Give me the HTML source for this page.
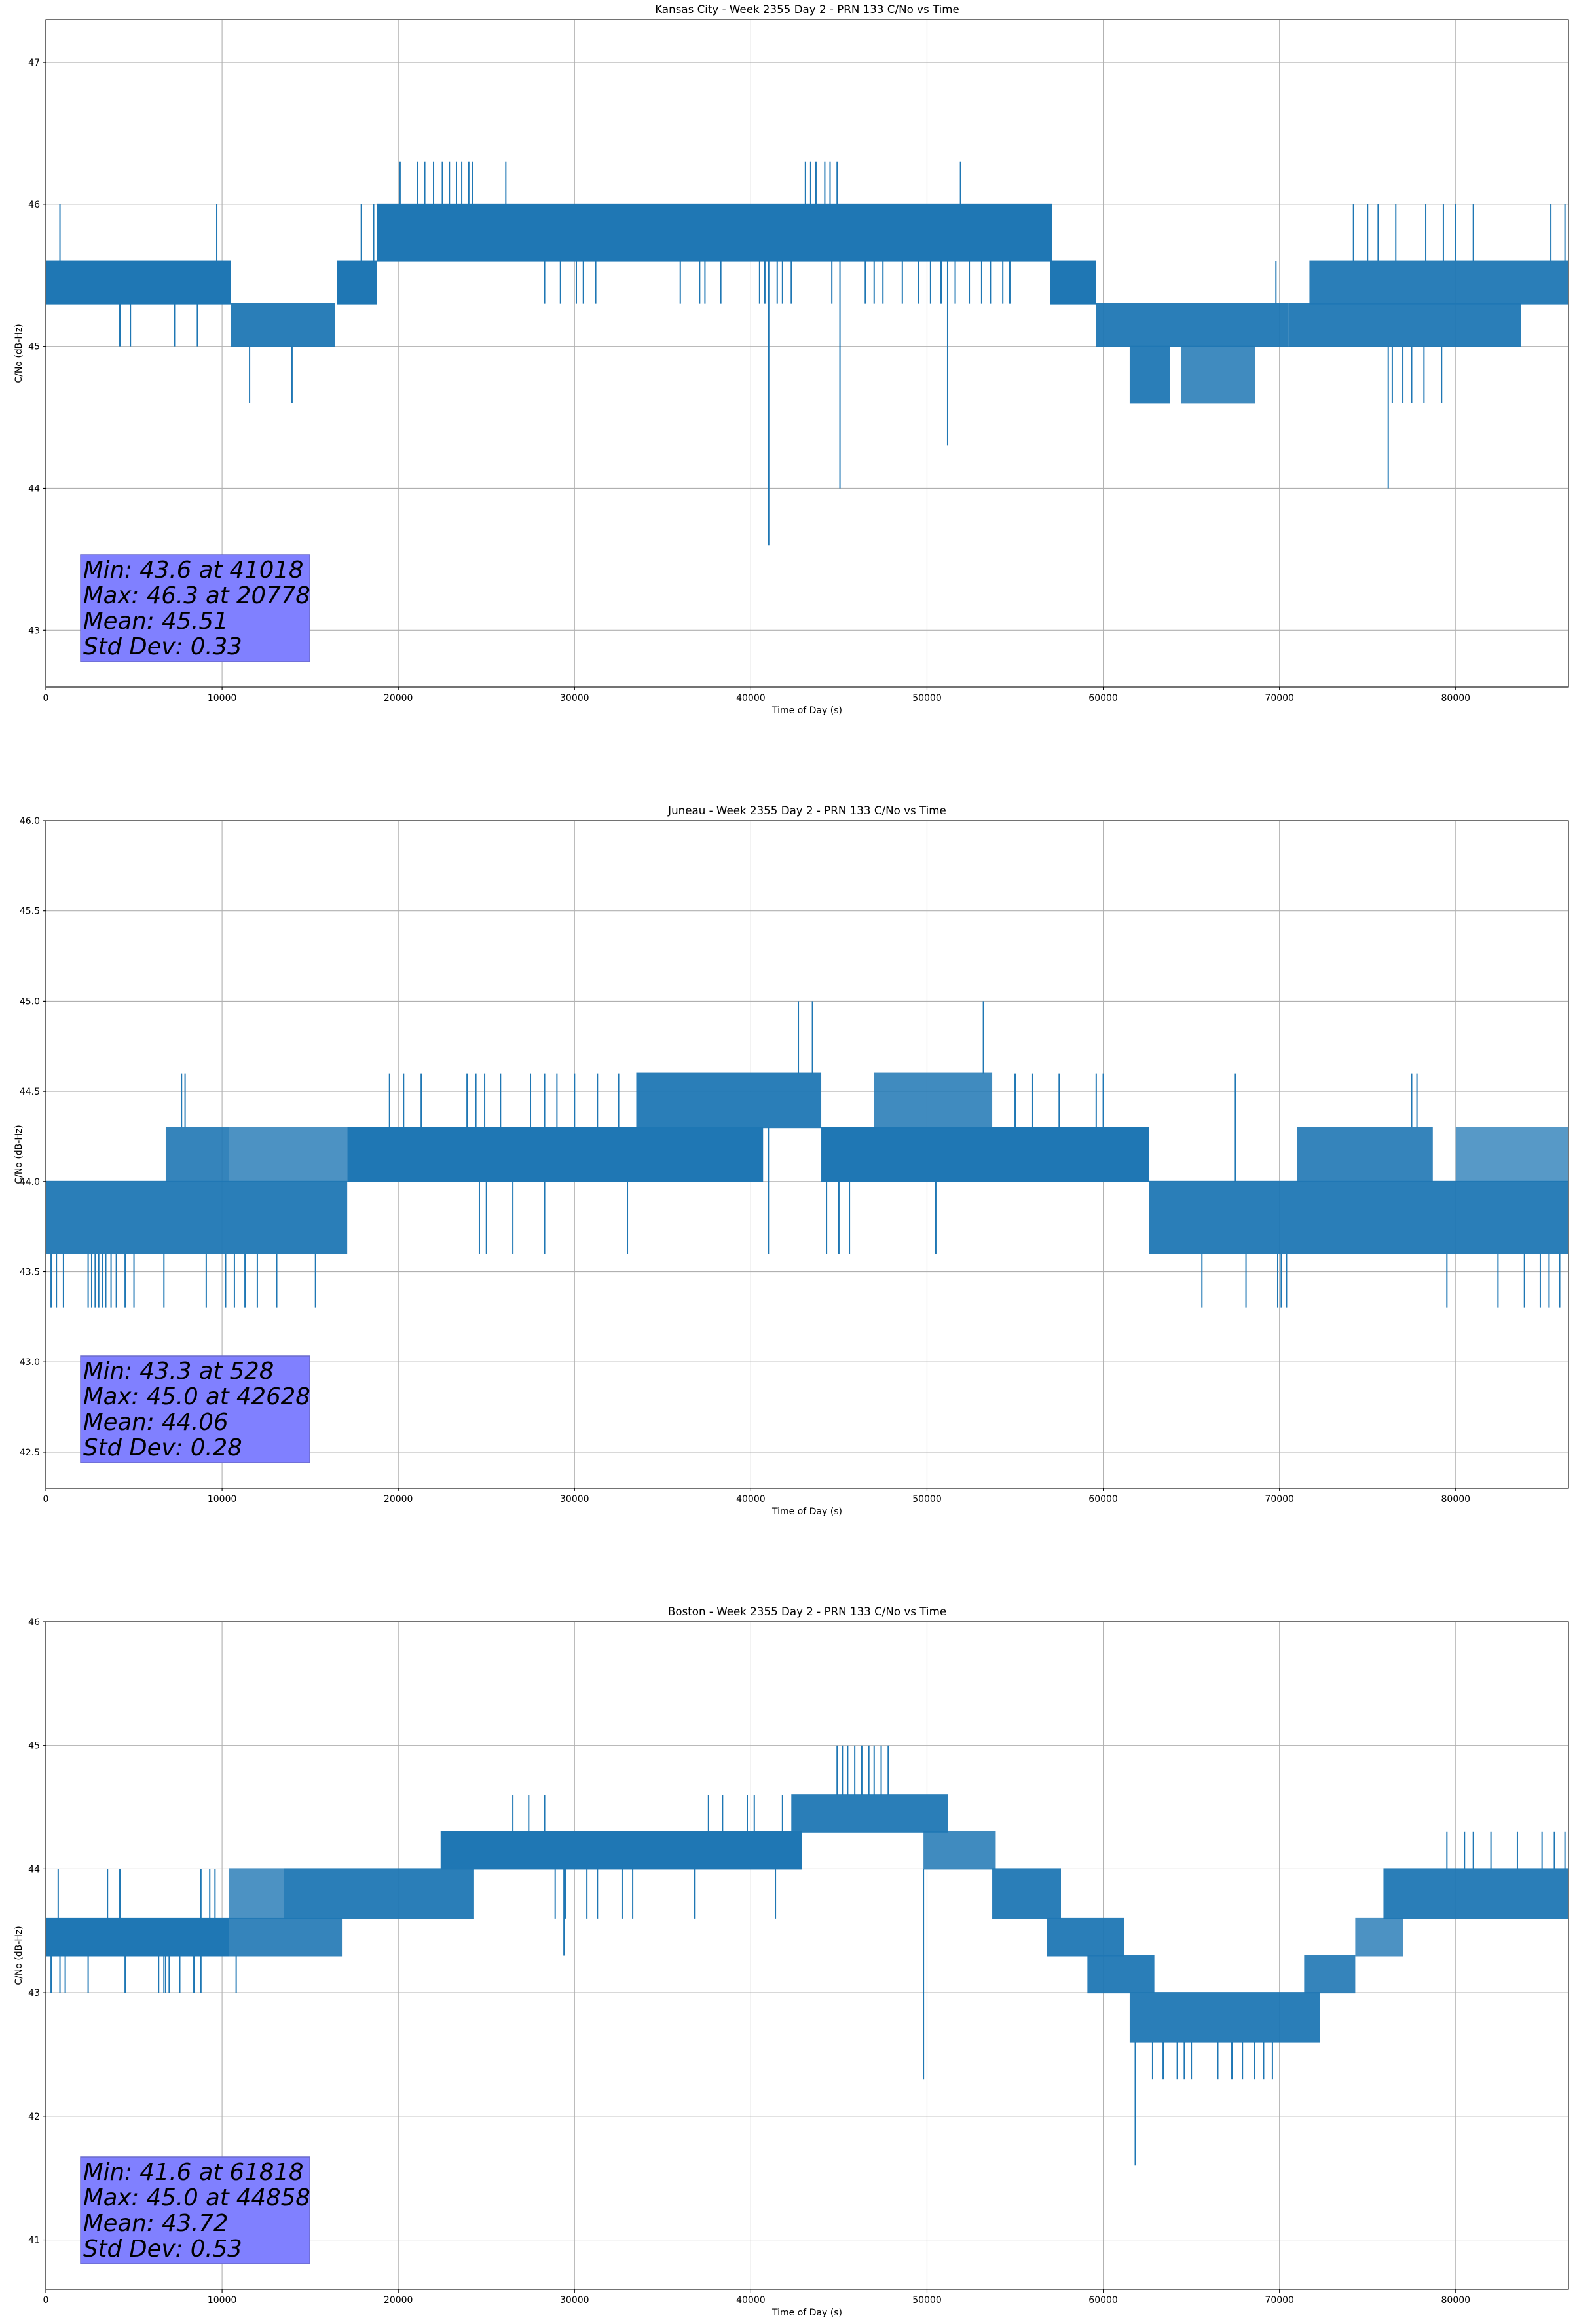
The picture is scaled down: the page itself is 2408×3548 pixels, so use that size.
<!DOCTYPE html>
<html><head><meta charset="utf-8">
<style>
html,body{margin:0;padding:0;background:#fff;}
svg{display:block;font-family:"DejaVu Sans","Liberation Sans",sans-serif;}
</style></head>
<body>
<svg id="fig" width="2408" height="3548" viewBox="0 0 2408 3548"></svg>
<script>
// ---- shared axis data ----
const xTicks = [0,10000,20000,30000,40000,50000,60000,70000,80000];
const xMax = 86400;

// ---- Kansas City ----
const kcTitle = "Kansas City - Week 2355 Day 2 - PRN 133 C/No vs Time";
const kcYLim = [42.6, 47.3];
const kcYTicks = [43,44,45,46,47];
const kcYTickLabels = ["43","44","45","46","47"];
const kcBandStart = [0,10500,16500,18800,57000,59600,61500,64400,70500,71700];
const kcBandEnd   = [10500,16400,18800,57100,59600,70500,63800,68600,83700,86400];
const kcBandLo    = [45.3,45.0,45.3,45.6,45.3,45.0,44.6,44.6,45.0,45.3];
const kcBandHi    = [45.6,45.3,45.6,46.0,45.6,45.3,45.0,45.0,45.3,45.6];
const kcBandDensity = [1,0.95,1,1,1,0.95,0.95,0.85,0.95,0.95];
const kcSpikeT = [800,9700,17900,18600,20100,21100,21500,22000,22500,22900,23300,23600,24000,24200,26100,43100,43400,43700,44200,44500,44900,51900,
  4200,4800,7300,8600,11560,13970,28300,29200,30100,30500,31200,36000,37100,37400,38300,40500,40800,41500,41800,42300,44600,46500,47000,47500,48600,49500,50200,50800,51600,52400,53100,53600,54300,54700,
  41018,45060,51170,76170,76400,77000,77500,78200,79200,74200,75000,75600,76600,78300,79300,80000,81000,85400,86200,69800];
const kcSpikeV = [46.0,46.0,46.0,46.0,46.3,46.3,46.3,46.3,46.3,46.3,46.3,46.3,46.3,46.3,46.3,46.3,46.3,46.3,46.3,46.3,46.3,46.3,
  45.0,45.0,45.0,45.0,44.6,44.6,45.3,45.3,45.3,45.3,45.3,45.3,45.3,45.3,45.3,45.3,45.3,45.3,45.3,45.3,45.3,45.3,45.3,45.3,45.3,45.3,45.3,45.3,45.3,45.3,45.3,45.3,45.3,45.3,
  43.6,44.0,44.3,44.0,44.6,44.6,44.6,44.6,44.6,46.0,46.0,46.0,46.0,46.0,46.0,46.0,46.0,46.0,46.0,45.6];
const kcStats = ["Min: 43.6 at 41018","Max: 46.3 at 20778","Mean: 45.51","Std Dev: 0.33"];

// ---- Juneau ----
const juTitle = "Juneau - Week 2355 Day 2 - PRN 133 C/No vs Time";
const juYLim = [42.3, 46.0];
const juYTicks = [42.5,43.0,43.5,44.0,44.5,45.0,45.5,46.0];
const juYTickLabels = ["42.5","43.0","43.5","44.0","44.5","45.0","45.5","46.0"];
const juBandStart = [0,6800,17100,44000,33500,47000,62600,71000,80000,10400];
const juBandEnd   = [17100,10400,40700,62600,44000,53700,86400,78700,86400,17100];
const juBandLo    = [43.6,44.0,44.0,44.0,44.3,44.3,43.6,44.0,44.0,44.0];
const juBandHi    = [44.0,44.3,44.3,44.3,44.6,44.6,44.0,44.3,44.3,44.3];
const juBandDensity = [0.95,0.9,1,1,0.95,0.85,0.95,0.9,0.75,0.8];
const juSpikeT = [300,600,1000,2400,2600,2800,3000,3200,3400,3700,4000,4500,5000,6700,9100,10200,10700,11300,12000,13100,15300,65600,68100,69900,70100,70400,79500,82400,83900,84800,85300,85900,
  7700,7900,19500,20300,21300,23900,24400,24900,25800,27500,28300,29000,30000,31300,32500,55000,56000,57500,59600,60000,67500,77500,77800,
  42700,43500,53200,
  24600,25000,26500,28300,33000,41000,44300,45000,45600,50500];
const juSpikeV = [43.3,43.3,43.3,43.3,43.3,43.3,43.3,43.3,43.3,43.3,43.3,43.3,43.3,43.3,43.3,43.3,43.3,43.3,43.3,43.3,43.3,43.3,43.3,43.3,43.3,43.3,43.3,43.3,43.3,43.3,43.3,43.3,
  44.6,44.6,44.6,44.6,44.6,44.6,44.6,44.6,44.6,44.6,44.6,44.6,44.6,44.6,44.6,44.6,44.6,44.6,44.6,44.6,44.6,44.6,44.6,
  45.0,45.0,45.0,
  43.6,43.6,43.6,43.6,43.6,43.6,43.6,43.6,43.6,43.6];
const juStats = ["Min: 43.3 at 528","Max: 45.0 at 42628","Mean: 44.06","Std Dev: 0.28"];

// ---- Boston ----
const boTitle = "Boston - Week 2355 Day 2 - PRN 133 C/No vs Time";
const boYLim = [40.6, 46.0];
const boYTicks = [41,42,43,44,45,46];
const boYTickLabels = ["41","42","43","44","45","46"];
const boBandStart = [0,10400,10400,13500,22400,42300,49800,53700,56800,59100,61500,71400,74300,75900];
const boBandEnd   = [10400,16800,13500,24300,42900,51200,53900,57600,61200,62900,72300,74300,77000,86400];
const boBandLo    = [43.3,43.3,43.6,43.6,44.0,44.3,44.0,43.6,43.3,43.0,42.6,43.0,43.3,43.6];
const boBandHi    = [43.6,43.6,44.0,44.0,44.3,44.6,44.3,44.0,43.6,43.3,43.0,43.3,43.6,44.0];
const boBandDensity = [1,0.9,0.8,0.95,1,0.95,0.85,0.95,0.95,0.95,0.95,0.9,0.8,0.95];
const boSpikeT = [300,800,1100,2400,4500,6400,6700,6800,7000,7600,8400,8800,10800,
  700,3500,4200,8800,9300,9600,
  26500,27400,28300,37600,38400,39800,40200,41800,42300,
  44900,45200,45500,45900,46300,46700,47000,47400,47800,
  28900,29500,30700,31300,32700,33300,36800,41400,29400,
  49800,61818,
  62800,63400,64200,64600,65000,66500,67300,67900,68600,69100,69600,
  79500,80500,81000,82000,83500,84900,85600,86200];
const boSpikeV = [43.0,43.0,43.0,43.0,43.0,43.0,43.0,43.0,43.0,43.0,43.0,43.0,43.0,
  44.0,44.0,44.0,44.0,44.0,44.0,
  44.6,44.6,44.6,44.6,44.6,44.6,44.6,44.6,44.6,
  45.0,45.0,45.0,45.0,45.0,45.0,45.0,45.0,45.0,
  43.6,43.6,43.6,43.6,43.6,43.6,43.6,43.6,43.3,
  42.3,41.6,
  42.3,42.3,42.3,42.3,42.3,42.3,42.3,42.3,42.3,42.3,42.3,
  44.3,44.3,44.3,44.3,44.3,44.3,44.3,44.3];
const boStats = ["Min: 41.6 at 61818","Max: 45.0 at 44858","Mean: 43.72","Std Dev: 0.53"];

const NS = "http://www.w3.org/2000/svg";
const fig = document.getElementById('fig');
const L = 70, R = 2395, H = 1019;
const BLUE = "#1f77b4";

function mk(tag, parent){ const e = document.createElementNS(NS, tag); parent.appendChild(e); return e; }

function drawChart(key, top, title, yLim, yTicks, yTickLabels, bS, bE, bLo, bHi, bD, sT, sV, stats){
  const g = mk('g', fig);
  
  
  const bottom = top + H;
  const sx = t => L + (t / xMax) * (R - L);
  const sy = v => bottom - (v - yLim[0]) / (yLim[1] - yLim[0]) * H;

  const grid = mk('g', g);
  
  
  xTicks.forEach(t => {
    const l = mk('line', grid);
    l.setAttribute('x1', sx(t)); l.setAttribute('x2', sx(t));
    l.setAttribute('y1', top); l.setAttribute('y2', bottom);
    l.setAttribute('stroke', '#b0b0b0'); l.setAttribute('stroke-width', '1.1');
  });
  yTicks.forEach(v => {
    const l = mk('line', grid);
    l.setAttribute('x1', L); l.setAttribute('x2', R);
    l.setAttribute('y1', sy(v)); l.setAttribute('y2', sy(v));
    l.setAttribute('stroke', '#b0b0b0'); l.setAttribute('stroke-width', '1.1');
  });

  const clipId = key + '-clip';
  const cp = mk('clipPath', g); cp.setAttribute('id', clipId);
  const cr = mk('rect', cp);
  cr.setAttribute('x', L); cr.setAttribute('y', top); cr.setAttribute('width', R - L); cr.setAttribute('height', H);
  const series = mk('g', g);
  
  
  series.setAttribute('clip-path', 'url(#' + clipId + ')');
  for (let i = 0; i < bS.length; i++) {
    const r = mk('rect', series);
    
    
    r.setAttribute('x', sx(bS[i])); r.setAttribute('width', Math.max(1, sx(bE[i]) - sx(bS[i])));
    r.setAttribute('y', sy(bHi[i]) - 1); r.setAttribute('height', sy(bLo[i]) - sy(bHi[i]) + 2);
    r.setAttribute('fill', BLUE); r.setAttribute('fill-opacity', bD[i]);
  }
  for (let i = 0; i < sT.length; i++) {
    const t = sT[i], v = sV[i];
    let hi = -Infinity, lo = Infinity;
    for (let j = 0; j < bS.length; j++) {
      if (t >= bS[j] && t <= bE[j]) { hi = Math.max(hi, bHi[j]); lo = Math.min(lo, bLo[j]); }
    }
    if (hi === -Infinity) { hi = v; lo = v; }
    const from = v > hi ? hi : (v < lo ? lo : v);
    const l = mk('line', series);
    
    
    l.setAttribute('x1', sx(t)); l.setAttribute('x2', sx(t));
    l.setAttribute('y1', sy(from)); l.setAttribute('y2', sy(v));
    l.setAttribute('stroke', BLUE); l.setAttribute('stroke-width', '2');
  }

  const fr = mk('rect', g);
  
  
  fr.setAttribute('x', L); fr.setAttribute('y', top); fr.setAttribute('width', R - L); fr.setAttribute('height', H);
  fr.setAttribute('fill', 'none'); fr.setAttribute('stroke', '#000'); fr.setAttribute('stroke-width', '1.1');

  const xa = mk('g', g);
  
  
  xTicks.forEach(t => {
    const l = mk('line', xa);
    l.setAttribute('x1', sx(t)); l.setAttribute('x2', sx(t));
    l.setAttribute('y1', bottom); l.setAttribute('y2', bottom + 5);
    l.setAttribute('stroke', '#000'); l.setAttribute('stroke-width', '1.1');
    const tx = mk('text', xa);
    
    
    tx.setAttribute('x', sx(t)); tx.setAttribute('y', bottom + 21);
    tx.setAttribute('text-anchor', 'middle'); tx.setAttribute('font-size', '14');
    tx.textContent = String(t);
  });
  const xl = mk('text', g);
  
  
  xl.setAttribute('x', (L + R) / 2); xl.setAttribute('y', bottom + 40);
  xl.setAttribute('text-anchor', 'middle'); xl.setAttribute('font-size', '14');
  xl.textContent = 'Time of Day (s)';

  const ya = mk('g', g);
  
  
  yTicks.forEach((v, i) => {
    const l = mk('line', ya);
    l.setAttribute('x1', L - 5); l.setAttribute('x2', L);
    l.setAttribute('y1', sy(v)); l.setAttribute('y2', sy(v));
    l.setAttribute('stroke', '#000'); l.setAttribute('stroke-width', '1.1');
    const tx = mk('text', ya);
    
    
    tx.setAttribute('x', L - 9); tx.setAttribute('y', sy(v) + 5);
    tx.setAttribute('text-anchor', 'end'); tx.setAttribute('font-size', '14');
    tx.textContent = yTickLabels[i];
  });
  const yl = mk('text', g);
  
  
  const yc = (top + bottom) / 2;
  yl.setAttribute('x', 33); yl.setAttribute('y', yc);
  yl.setAttribute('transform', 'rotate(-90 33 ' + yc + ')');
  yl.setAttribute('text-anchor', 'middle'); yl.setAttribute('font-size', '14');
  yl.textContent = 'C/No (dB-Hz)';

  const ti = mk('text', g);
  
  
  ti.setAttribute('x', (L + R) / 2); ti.setAttribute('y', top - 10);
  ti.setAttribute('text-anchor', 'middle'); ti.setAttribute('font-size', '16.7');
  ti.textContent = title;

  const sb = mk('g', g);
  
  
  const br = mk('rect', sb);
  br.setAttribute('x', 123); br.setAttribute('y', top + 817);
  br.setAttribute('width', 350); br.setAttribute('height', 163);
  br.setAttribute('fill', '#8080ff'); br.setAttribute('stroke', '#6b6bcc'); br.setAttribute('stroke-width', '1.5');
  stats.forEach((s, i) => {
    const tx = mk('text', sb);
    
    
    tx.setAttribute('x', 127); tx.setAttribute('y', top + 852 + i * 39);
    tx.setAttribute('font-size', '35.5'); tx.setAttribute('font-style', 'italic');
    tx.setAttribute('fill', '#000');
    tx.textContent = s;
  });
}

drawChart('kansas-city', 30, kcTitle, kcYLim, kcYTicks, kcYTickLabels, kcBandStart, kcBandEnd, kcBandLo, kcBandHi, kcBandDensity, kcSpikeT, kcSpikeV, kcStats);
drawChart('juneau', 1253, juTitle, juYLim, juYTicks, juYTickLabels, juBandStart, juBandEnd, juBandLo, juBandHi, juBandDensity, juSpikeT, juSpikeV, juStats);
drawChart('boston', 2476, boTitle, boYLim, boYTicks, boYTickLabels, boBandStart, boBandEnd, boBandLo, boBandHi, boBandDensity, boSpikeT, boSpikeV, boStats);
</script>
</body></html>
